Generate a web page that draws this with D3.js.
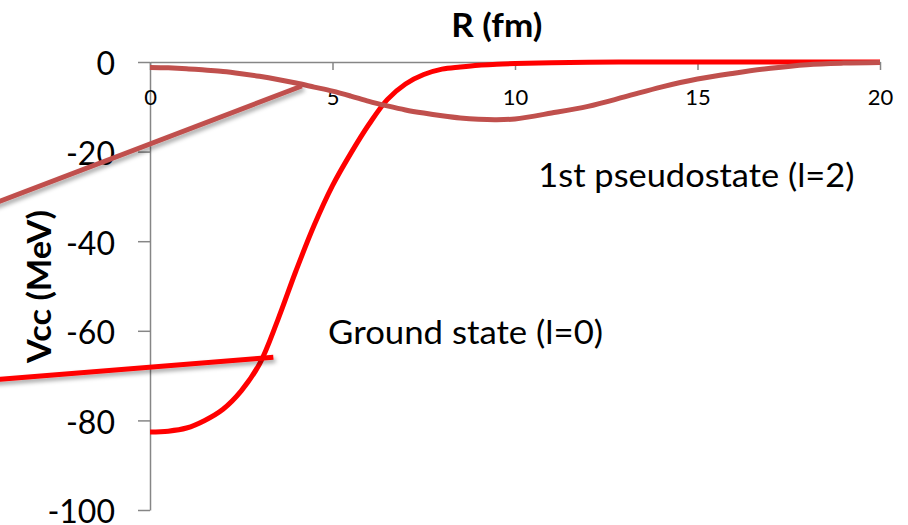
<!DOCTYPE html>
<html>
<head>
<meta charset="utf-8">
<script src="https://cdn.jsdelivr.net/npm/d3@7"></script>
<style>
  html, body { margin: 0; padding: 0; background: #ffffff; }
  svg { display: block; font-family: "Lato", "Open Sans", sans-serif; }
</style>
</head>
<body>
<svg id="chart" width="908" height="525"></svg>
<script>
// Radial grid (fm) shared by both potentials
const radius = [0, 0.5, 1, 1.5, 2, 2.5, 3, 3.5, 4, 4.5, 5, 5.5, 6, 6.5, 7, 7.5, 8, 8.5, 9, 9.5, 10,
                11, 12, 13, 14, 15, 16, 17, 18, 19, 20];

// Cluster-cluster potential Vcc (MeV), ground state (l=0)
const groundState = [-82.6, -82.4, -81.7, -80.0, -77.5, -73.4, -67.4, -57.6, -46.6, -36.4, -27.6, -20.4,
                     -13.9, -8.4, -4.9, -2.8, -1.6, -1.1, -0.7, -0.5, -0.35,
                     -0.15, -0.05, 0, 0, 0, 0, 0, 0, 0, 0];

// Cluster-cluster potential Vcc (MeV), 1st pseudostate (l=2)
const pseudoState = [-1.2, -1.3, -1.5, -1.8, -2.1, -2.6, -3.2, -3.9, -4.7, -5.6, -6.5, -7.6,
                     -8.8, -9.8, -10.7, -11.4, -12.0, -12.5, -12.8, -12.9, -12.7,
                     -11.4, -9.9, -7.8, -5.6, -3.8, -2.5, -1.4, -0.6, -0.25, -0.1];

const seriesNames = ["Ground state (l=0)", "1st pseudostate (l=2)"];
const xTicks = [0, 5, 10, 15, 20];
const yTicks = [0, -20, -40, -60, -80, -100];
const xTitle = "R (fm)";
const yTitle = "Vcc (MeV)";

const colors = ["#ff0000", "#c0504d"];

const svg = d3.select("#chart");

const x = d3.scaleLinear().domain([0, 20]).range([150, 880]);
const y = d3.scaleLinear().domain([0, -100]).range([62, 510]);

// Plain hyphen for negative tick values
const plainNumber = d => String(d).replace("\u2212", "-");

// Drop shadow used by the callout lines
const defs = svg.append("defs");
const shadow = defs.append("filter").attr("id", "calloutShadow")
  .attr("x", "-10%").attr("y", "-50%").attr("width", "130%").attr("height", "250%");
shadow.append("feDropShadow")
  .attr("dx", 2).attr("dy", 3).attr("stdDeviation", 2)
  .attr("flood-color", "#000").attr("flood-opacity", 0.35);

// Axes
const axisColor = "#868686";

const yAxis = svg.append("g")
  .attr("transform", `translate(${x(0)},0)`)
  .call(d3.axisLeft(y).tickValues(yTicks).tickSize(12).tickSizeOuter(0).tickPadding(23)
    .tickFormat(plainNumber));

const xAxis = svg.append("g")
  .attr("transform", `translate(0,${y(0)})`)
  .call(d3.axisBottom(x).tickValues(xTicks).tickSize(8).tickSizeOuter(0)
    .tickFormat(plainNumber));

[xAxis, yAxis].forEach(g => {
  g.select(".domain").attr("stroke", axisColor).attr("stroke-width", 1.5);
  g.selectAll(".tick line").attr("stroke", axisColor).attr("stroke-width", 1.5);
  g.selectAll(".tick text").attr("fill", "#000").attr("font-family", "Lato, 'Open Sans', sans-serif");
});
yAxis.selectAll(".tick text").attr("font-size", 32).attr("dy", "0.4em");
xAxis.selectAll(".tick text").attr("font-size", 22).attr("y", 0).attr("dy", 43);

// Axis titles
svg.append("text")
  .attr("x", x(9.5)).attr("y", 36.5)
  .attr("text-anchor", "middle")
  .attr("font-size", 32).attr("font-weight", "bold")
  .attr("textLength", 91).attr("lengthAdjust", "spacingAndGlyphs")
  .text(xTitle);

svg.append("text")
  .attr("transform", `translate(50.5,${y(-50.1)}) rotate(-90)`)
  .attr("text-anchor", "middle")
  .attr("font-size", 32).attr("font-weight", "bold")
  .attr("textLength", 153).attr("lengthAdjust", "spacingAndGlyphs")
  .text(yTitle);

// Potential curves
const line = d3.line()
  .x(d => x(d[0]))
  .y(d => y(d[1]))
  .curve(d3.curveCatmullRom.alpha(0.5));

[groundState, pseudoState].forEach((vals, i) => {
  svg.append("path")
    .datum(radius.map((r, k) => [r, vals[k]]))
    .attr("fill", "none")
    .attr("stroke", colors[i])
    .attr("stroke-width", 5)
    .attr("stroke-linejoin", "round")
    .attr("d", line);
});

// Callouts: line from off-chart left to a point on each curve, plus label
const callouts = [
  { from: [-4.5, -71.1], to: [3.38, -65.9], label: [4.88, -63.0], width: 275 },
  { from: [-4.5, -32.3], to: [4.16, -5.35], label: [10.64, -27.8], width: 316 }
];

callouts.forEach((c, i) => {
  svg.append("line")
    .attr("x1", x(c.from[0])).attr("y1", y(c.from[1]))
    .attr("x2", x(c.to[0])).attr("y2", y(c.to[1]))
    .attr("stroke", colors[i])
    .attr("stroke-width", 5)
    .attr("filter", "url(#calloutShadow)");

  svg.append("text")
    .attr("x", x(c.label[0])).attr("y", y(c.label[1]))
    .attr("font-size", 32)
    .attr("fill", "#000")
    .attr("textLength", c.width).attr("lengthAdjust", "spacingAndGlyphs")
    .text(seriesNames[i]);
});
</script>
</body>
</html>
